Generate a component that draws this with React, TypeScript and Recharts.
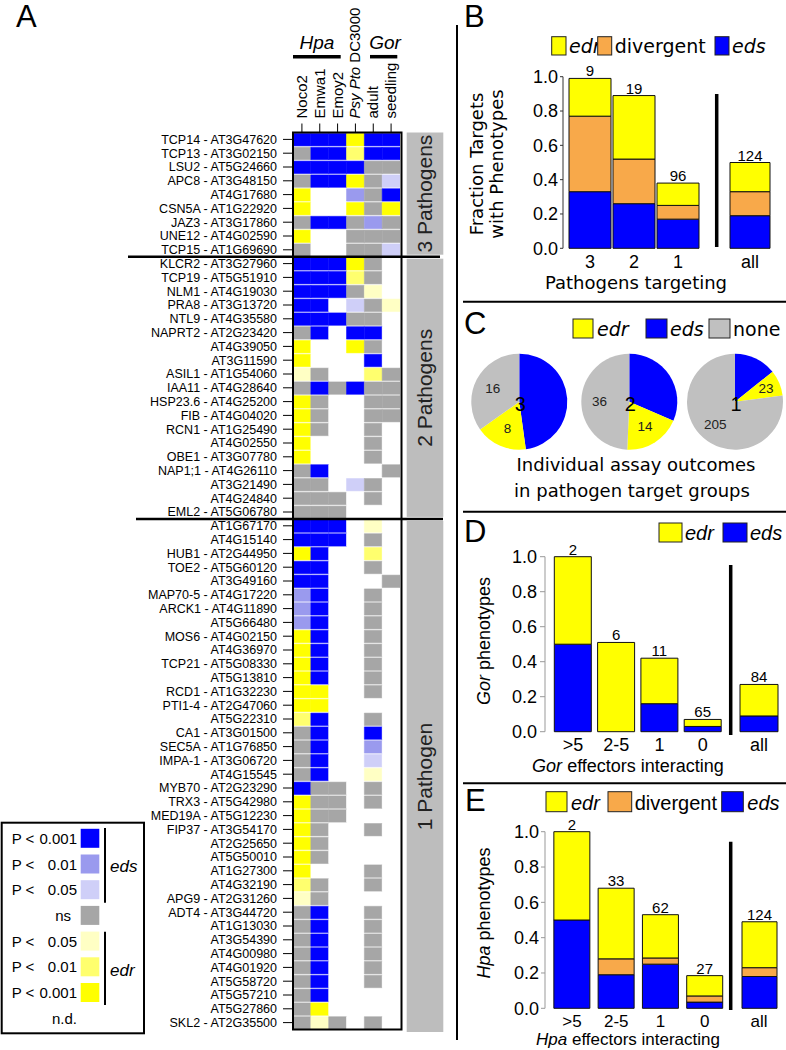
import React from 'react';
import { BarChart, Bar, XAxis, YAxis, Cell, LabelList, PieChart, Pie } from 'recharts';

const SANS = '"Liberation Sans", Arial, Helvetica, sans-serif';
const WIDE = '"DejaVu Sans", Verdana, sans-serif';

// ---------- panel A: heatmap ----------
// one character per assay column:
// B/b/c = eds P<0.001 / 0.01 / 0.05, Y/y/z = edr P<0.001 / 0.01 / 0.05, g = ns, . = n.d.
const assayColumns = ['Noco2', 'Emwa1', 'Emoy2', 'Psy Pto DC3000', 'adult', 'seedling'];

const threePathGenes = [
  'TCP14 - AT3G47620', 'TCP13 - AT3G02150', 'LSU2 - AT5G24660', 'APC8 - AT3G48150', 'AT4G17680',
  'CSN5A - AT1G22920', 'JAZ3 - AT3G17860', 'UNE12 - AT4G02590', 'TCP15 - AT1G69690',
];
const threePathCalls = ['BBBYBB', 'gBByBB', 'BBBBgg', 'gBBYgc', 'Y..bgB', 'Y..YgY', 'gBBgbg', 'Y..ggg', 'g..ggc'];

const twoPathGenes = [
  'KLCR2 - AT3G27960', 'TCP19 - AT5G51910', 'NLM1 - AT4G19030', 'PRA8 - AT3G13720', 'NTL9 - AT4G35580',
  'NAPRT2 - AT2G23420', 'AT4G39050', 'AT3G11590', 'ASIL1 - AT1G54060', 'IAA11 - AT4G28640',
  'HSP23.6 - AT4G25200', 'FIB - AT4G04020', 'RCN1 - AT1G25490', 'AT4G02550', 'OBE1 - AT3G07780',
  'NAP1;1 - AT4G26110', 'AT3G21490', 'AT4G24840', 'EML2 - AT5G06780',
];
const twoPathCalls = [
  'BBBYg.', 'BBByg.', 'BBBgz.', 'BB.cgz', 'BBBgg.', 'gB.BB.', 'Y..Yg.', 'Y...B.', 'zg..yg', 'gBgBgg',
  'Yg..gg', 'Yg..gg', 'Yg..g.', 'Y...g.', 'Y...g.', 'gB...g', 'gg.cg.', 'ggg.g.', 'ggg...',
];

const onePathGenes = [
  'AT1G67170', 'AT4G15140', 'HUB1 - AT2G44950', 'TOE2 - AT5G60120', 'AT3G49160', 'MAP70-5 - AT4G17220',
  'ARCK1 - AT4G11890', 'AT5G66480', 'MOS6 - AT4G02150', 'AT4G36970', 'TCP21 - AT5G08330', 'AT5G13810',
  'RCD1 - AT1G32230', 'PTI1-4 - AT2G47060', 'AT5G22310', 'CA1 - AT3G01500', 'SEC5A - AT1G76850',
  'IMPA-1 - AT3G06720', 'AT4G15545', 'MYB70 - AT2G23290', 'TRX3 - AT5G42980', 'MED19A - AT5G12230',
  'FIP37 - AT3G54170', 'AT2G25650', 'AT5G50010', 'AT1G27300', 'AT4G32190', 'APG9 - AT2G31260',
  'ADT4 - AT3G44720', 'AT1G13030', 'AT3G54390', 'AT4G00980', 'AT4G01920', 'AT5G58720', 'AT5G57210',
  'AT5G27860', 'SKL2 - AT2G35500',
];
const onePathCalls = [
  'BBB.z.', 'BBB.g.', 'YB..y.', 'BB..g.', 'BB...g', 'bB..g.', 'bB..g.', 'bB..g.', 'YB..g.', 'YB..g.',
  'YB..g.', 'YB..g.', 'YY..g.', 'YY....', 'yB..g.', 'gB..B.', 'gB..b.', 'gB..c.', 'gB..z.', 'Bgg.g.',
  'Ygg.g.', 'Ygg...', 'Yg..g.', 'Yg....', 'Yg....', 'Y...g.', 'yg..g.', 'zg....', 'gB..g.', 'gB..g.',
  'gB..g.', 'gB..g.', 'gB..g.', 'gB..g.', 'gB....', 'gY....', 'gzg.g.',
];

const callColors: Record<string, string> = {
  B: '#0000ff', b: '#9a9aee', c: '#cfcff8', g: '#a6a6a6',
  z: '#ffffc4', y: '#ffff6e', Y: '#ffff00', '.': '#ffffff',
};

const legendCodes = ['B', 'b', 'c', 'g', 'z', 'y', 'Y', '.'];
const legendText = ['0.001', '0.01', '0.05', 'ns', '0.05', '0.01', '0.001', 'n.d.'];

// ---------- panel B ----------
const targetCats = ['3', '2', '1', 'all'];
const targetEds = [0.33, 0.26, 0.17, 0.19];
const targetDiv = [0.44, 0.26, 0.08, 0.14];
const targetEdr = [0.22, 0.37, 0.13, 0.17];
const targetN = [9, 19, 96, 124];

// ---------- panel C ----------
const pieGroups = ['3', '2', '1'];
const pieEds = [22, 23, 38];
const pieEdr = [8, 14, 23];
const pieNone = [16, 36, 205];

// ---------- panel D ----------
const effCats = ['>5', '2-5', '1', '0', 'all'];
const gorEds = [0.5, 0, 0.16, 0.03, 0.09];
const gorEdr = [0.5, 0.51, 0.26, 0.04, 0.18];
const gorN = [2, 6, 11, 65, 84];

// ---------- panel E ----------
const hpaEds = [0.5, 0.19, 0.25, 0.035, 0.18];
const hpaDiv = [0, 0.09, 0.035, 0.035, 0.05];
const hpaEdr = [0.5, 0.4, 0.245, 0.115, 0.26];
const hpaN = [2, 33, 62, 27, 124];

const YELLOW = '#ffff00';
const ORANGE = '#f8a94a';
const BLUE = '#0000ff';
const PIEGREY = '#c0c0c0';

const geneLabels = [...threePathGenes, ...twoPathGenes, ...onePathGenes];
const geneCalls = [...threePathCalls, ...twoPathCalls, ...onePathCalls];
const heatRows = geneLabels.map((gene) => {
  const row: any = { gene };
  assayColumns.forEach((_, j) => (row['c' + j] = 1));
  return row;
});

const ColumnTick = (props: any) => {
  const { x, y, payload } = props;
  const label = assayColumns[Math.floor(payload.value)];
  const bx = x + 5;
  return (
    <text x={bx} y={y} transform={`rotate(-90 ${bx} ${y})`} fontSize={15} fontFamily={SANS} fill="#000">
      {label.startsWith('Psy') ? (
        <>
          <tspan fontStyle="italic">Psy Pto</tspan>
          <tspan> DC3000</tspan>
        </>
      ) : (
        label
      )}
    </text>
  );
};

type Layer = { key: string; fill: string };

const stackRows = (cats: string[], cols: Record<string, number[]>, n: number[]) =>
  cats.map((cat, i) => {
    const r: any = { cat, n: n[i] };
    Object.keys(cols).forEach((k) => (r[k] = cols[k][i]));
    return r;
  });

function StackPanel(p: {
  rows: any[]; layers: Layer[]; top: number; height: number; mt: number; mb: number;
  yWidth: number; pad: number; mainRight: number; barSize: number; xFont: number;
  allLeft: number; allRight: number; allBar: number; axisColor: string; tickSize: number; tickMargin: number;
}) {
  const bars = () =>
    p.layers.map((l, i) => (
      <Bar key={l.key} dataKey={l.key} stackId="s" fill={l.fill} stroke="#111" strokeWidth={1} isAnimationActive={false}>
        {i === p.layers.length - 1 && (
          <LabelList dataKey="n" position="top" offset={2} fontSize={15} fill="#000" fontFamily={SANS} />
        )}
      </Bar>
    ));
  const xAxis = (pad: number) => (
    <XAxis
      dataKey="cat"
      interval={0}
      axisLine={false}
      tickLine={false}
      tickSize={4}
      tickMargin={3}
      height={30}
      padding={{ left: pad, right: 0 }}
      tick={{ fontSize: p.xFont, fill: '#000', fontFamily: SANS }}
    />
  );
  return (
    <>
      <div style={{ position: 'absolute', left: 460, top: p.top }}>
        <BarChart width={326} height={p.height} data={p.rows.slice(0, -1)} barSize={p.barSize}
          margin={{ top: p.mt, right: p.mainRight, bottom: p.mb, left: 0 }}>
          {xAxis(p.pad)}
          <YAxis
            type="number"
            domain={[0, 1]}
            ticks={[0, 0.2, 0.4, 0.6, 0.8, 1]}
            tickFormatter={(v: number) => v.toFixed(1)}
            width={p.yWidth}
            tickSize={p.tickSize}
            tickMargin={p.tickMargin}
            axisLine={{ stroke: p.axisColor }}
            tickLine={{ stroke: p.axisColor }}
            tick={{ fontSize: 18, fill: '#000', fontFamily: SANS }}
          />
          {bars()}
        </BarChart>
      </div>
      <div style={{ position: 'absolute', left: 460, top: p.top }}>
        <BarChart width={326} height={p.height} data={p.rows.slice(-1)} barSize={p.allBar}
          margin={{ top: p.mt, right: p.allRight, bottom: p.mb, left: p.allLeft }}>
          {xAxis(0)}
          <YAxis type="number" domain={[0, 1]} hide />
          {bars()}
        </BarChart>
      </div>
    </>
  );
}

const RAD = Math.PI / 180;
const pieLabel = (props: any) => {
  const { cx, cy, midAngle, outerRadius, name, value, percent } = props;
  if (name === 'eds') return <g />;
  const r = outerRadius * (percent < 0.13 ? 0.7 : 0.62);
  const x = cx + r * Math.cos(-midAngle * RAD);
  const y = cy + r * Math.sin(-midAngle * RAD);
  return (
    <text x={x} y={y} textAnchor="middle" dominantBaseline="central" fontSize={13.5} fill="#222" fontFamily={SANS}>
      {value}
    </text>
  );
};

const pieFill: Record<string, string> = { eds: BLUE, edr: YELLOW, none: PIEGREY };

function LegendItem({ x, y, w, h, fill, label, italic, size, gap, font }: any) {
  return (
    <g>
      <rect x={x} y={y} width={w} height={h} fill={fill} stroke="#222" strokeWidth={1} />
      <text x={x + w + gap} y={y + h - 2} fontSize={size} fontStyle={italic ? 'italic' : 'normal'} fontFamily={font}>
        {label}
      </text>
    </g>
  );
}

export default function App() {
  const bRows = stackRows(targetCats, { eds: targetEds, div: targetDiv, edr: targetEdr }, targetN);
  const dRows = stackRows(effCats, { eds: gorEds, edr: gorEdr }, gorN);
  const eRows = stackRows(effCats, { eds: hpaEds, div: hpaDiv, edr: hpaEdr }, hpaN);
  const threeLayers: Layer[] = [
    { key: 'eds', fill: BLUE },
    { key: 'div', fill: ORANGE },
    { key: 'edr', fill: YELLOW },
  ];
  const twoLayers: Layer[] = [
    { key: 'eds', fill: BLUE },
    { key: 'edr', fill: YELLOW },
  ];
  const pieCenters = [59.3, 169.3, 275];

  const rowH = 13.8;
  const heatTop = 132.5;

  return (
    <div style={{ position: 'absolute', left: 0, top: 0, width: 786, height: 1050, background: '#fff', fontFamily: SANS }}>
      {/* heatmap */}
      <div style={{ position: 'absolute', left: 0, top: 0 }}>
        <BarChart width={400} height={1040} data={heatRows} layout="vertical" barCategoryGap={0} barSize={rowH}
          margin={{ top: 7.5, right: 0, bottom: 10.5, left: 0 }}>
          <XAxis
            type="number"
            orientation="top"
            domain={[0, 6]}
            ticks={[0.5, 1.5, 2.5, 3.5, 4.5, 5.5]}
            interval={0}
            height={125}
            tickSize={9}
            tickMargin={5}
            axisLine={false}
            tickLine={{ stroke: '#000' }}
            tick={<ColumnTick />}
          />
          <YAxis
            type="category"
            dataKey="gene"
            width={293}
            interval={0}
            tickSize={10}
            tickMargin={6}
            axisLine={false}
            tickLine={{ stroke: '#000' }}
            tick={{ fontSize: 12.5, fill: '#000', fontFamily: SANS }}
          />
          {assayColumns.map((_, j) => (
            <Bar key={j} dataKey={'c' + j} stackId="h" isAnimationActive={false}>
              {geneCalls.map((c, i) => (
                <Cell key={i} fill={callColors[c[j]]} stroke={callColors[c[j]]} strokeWidth={0.5} />
              ))}
            </Bar>
          ))}
        </BarChart>
      </div>

      {/* panel B */}
      <StackPanel rows={bRows} layers={threeLayers} top={0} height={300} mt={76.7} mb={21.7} yWidth={103} pad={5}
        mainRight={86} barSize={42} allLeft={268} allRight={14} allBar={40} axisColor="#333" tickSize={3} tickMargin={2} xFont={18} />

      {/* panel C */}
      <div style={{ position: 'absolute', left: 460, top: 345 }}>
        <PieChart width={326} height={115} margin={{ top: 0, right: 0, bottom: 0, left: 0 }}>
          {pieGroups.map((g, k) => {
            const data = [
              { name: 'eds', value: pieEds[k] },
              { name: 'edr', value: pieEdr[k] },
              { name: 'none', value: pieNone[k] },
            ];
            return (
              <Pie key={g} data={data} dataKey="value" nameKey="name" cx={pieCenters[k]} cy={56.7} outerRadius={48}
                startAngle={90} endAngle={-270} stroke="none" isAnimationActive={false} label={pieLabel} labelLine={false}>
                {data.map((d) => (
                  <Cell key={d.name} fill={pieFill[d.name]} />
                ))}
              </Pie>
            );
          })}
        </PieChart>
      </div>

      {/* panel D */}
      <StackPanel rows={dRows} layers={twoLayers} top={505} height={275} mt={51.7} mb={18.3} yWidth={85} pad={6.3}
        mainRight={61.5} barSize={37} allLeft={277} allRight={5} allBar={38} axisColor="#999" tickSize={5} tickMargin={3} xFont={18} />

      {/* panel E */}
      <StackPanel rows={eRows} layers={threeLayers} top={770} height={280} mt={61.7} mb={11.7} yWidth={85} pad={4.85}
        mainRight={59} barSize={36} allLeft={277} allRight={5} allBar={35} axisColor="#999" tickSize={4} tickMargin={2} xFont={17} />

      {/* annotations */}
      <svg width={786} height={1050} style={{ position: 'absolute', left: 0, top: 0, pointerEvents: 'none' }} fontFamily={SANS}>
        <text x={16} y={27} fontSize={31}>A</text>
        <text x={464} y={27} fontSize={31}>B</text>
        <text x={464} y={334} fontSize={31}>C</text>
        <text x={464} y={542} fontSize={31}>D</text>
        <text x={465} y={811} fontSize={31}>E</text>

        <line x1={457} y1={25} x2={457} y2={1040} stroke="#000" strokeWidth={2} />
        <line x1={463} y1={301.7} x2={786} y2={301.7} stroke="#000" strokeWidth={2} />
        <line x1={463} y1={511.7} x2={786} y2={511.7} stroke="#000" strokeWidth={2} />
        <line x1={463} y1={783.3} x2={786} y2={783.3} stroke="#000" strokeWidth={2} />

        {/* heatmap headers */}
        <text x={317} y={49} fontSize={19} fontStyle="italic" textAnchor="middle">Hpa</text>
        <line x1={293} y1={56.7} x2={340.7} y2={56.7} stroke="#000" strokeWidth={3.5} />
        <text x={385} y={49} fontSize={19} fontStyle="italic" textAnchor="middle">Gor</text>
        <line x1={370} y1={56.7} x2={397.3} y2={56.7} stroke="#000" strokeWidth={3.5} />

        <rect x={293} y={heatTop} width={108.5} height={65 * rowH} fill="none" stroke="#000" strokeWidth={2} />
        <line x1={128} y1={heatTop + 9 * rowH} x2={440} y2={heatTop + 9 * rowH} stroke="#000" strokeWidth={2.5} />
        <line x1={136} y1={heatTop + 28 * rowH} x2={443} y2={heatTop + 28 * rowH} stroke="#000" strokeWidth={2.5} />

        {[
          { y0: heatTop, y1: heatTop + 9 * rowH - 2, label: '3 Pathogens' },
          { y0: heatTop + 9 * rowH + 2, y1: heatTop + 28 * rowH - 2, label: '2 Pathogens' },
          { y0: heatTop + 28 * rowH + 2, y1: 1032, label: '1 Pathogen' },
        ].map((g) => {
          const cy = (g.y0 + g.y1) / 2;
          return (
            <g key={g.label}>
              <rect x={406.7} y={g.y0} width={36.6} height={g.y1 - g.y0} fill="#bdbdbd" />
              <text x={425} y={cy} transform={`rotate(-90 425 ${cy})`} textAnchor="middle" dominantBaseline="central"
                fontSize={21} fill="#222">{g.label}</text>
            </g>
          );
        })}

        {/* heatmap legend */}
        <rect x={1.7} y={822.7} width={142.3} height={210.6} fill="none" stroke="#000" strokeWidth={2} />
        {legendCodes.map((code, i) => {
          const yc = 838.3 + i * 25.7;
          const isP = i !== 3 && i !== 7;
          return (
            <g key={i}>
              {isP && <text x={11.7} y={yc} dominantBaseline="central" fontSize={15}>P &lt;</text>}
              <text x={i === 3 ? 71 : 77} y={yc} dominantBaseline="central" textAnchor="end" fontSize={15}>{legendText[i]}</text>
              {code !== '.' && <rect x={80.7} y={yc - 9.5} width={18.6} height={19} fill={callColors[code]} />}
            </g>
          );
        })}
        <line x1={105} y1={828} x2={105} y2={902.7} stroke="#000" strokeWidth={2} />
        <text x={110} y={866.7} dominantBaseline="central" fontSize={17} fontStyle="italic">eds</text>
        <line x1={105} y1={931.7} x2={105} y2={1005} stroke="#000" strokeWidth={2} />
        <text x={110} y={970} dominantBaseline="central" fontSize={17} fontStyle="italic">edr</text>

        {/* panel B decorations */}
        <LegendItem x={551.7} y={36.7} w={14.3} h={18.3} fill={YELLOW} label="edr" italic size={19} gap={3} font={WIDE} />
        <LegendItem x={597.7} y={36.7} w={14} h={18.3} fill={ORANGE} label="divergent" size={19} gap={3} font={WIDE} />
        <LegendItem x={715} y={36.7} w={14} h={18.3} fill={BLUE} label="eds" italic size={19} gap={3} font={WIDE} />
        <line x1={716.7} y1={94} x2={716.7} y2={247} stroke="#000" strokeWidth={3.5} />
        <g fontFamily={WIDE} fontSize={18}>
          <text x={476.7} y={164} transform="rotate(-90 476.7 164)" textAnchor="middle" dominantBaseline="central">Fraction Targets</text>
          <text x={496.7} y={164} transform="rotate(-90 496.7 164)" textAnchor="middle" dominantBaseline="central">with Phenotypes</text>
          <text x={636} y={289} textAnchor="middle">Pathogens targeting</text>
        </g>

        {/* panel C decorations */}
        <LegendItem x={573} y={319} w={20} h={19} fill={YELLOW} label="edr" italic size={19} gap={4} font={WIDE} />
        <LegendItem x={646} y={319} w={21} h={19} fill={BLUE} label="eds" italic size={19} gap={3} font={WIDE} />
        <LegendItem x={709} y={319} w={21} h={19} fill={PIEGREY} label="none" size={19} gap={3} font={WIDE} />
        {pieGroups.map((g, k) => (
          <text key={g} x={460 + pieCenters[k] + 1} y={404} textAnchor="middle" dominantBaseline="central" fontSize={20}>{g}</text>
        ))}
        <g fontFamily={WIDE} fontSize={18} textAnchor="middle">
          <text x={636} y={471}>Individual assay outcomes</text>
          <text x={632} y={497}>in pathogen target groups</text>
        </g>

        {/* panel D decorations */}
        <LegendItem x={659} y={523} w={23} h={19} fill={YELLOW} label="edr" italic size={20} gap={3} font={SANS} />
        <LegendItem x={723} y={523} w={24} h={19} fill={BLUE} label="eds" italic size={20} gap={3} font={SANS} />
        <line x1={730.7} y1={565} x2={730.7} y2={735} stroke="#000" strokeWidth={3.5} />
        <text x={484} y={641} transform="rotate(-90 484 641)" textAnchor="middle" dominantBaseline="central" fontSize={18}>
          <tspan fontStyle="italic">Gor</tspan> phenotypes
        </text>
        <text x={628} y={772} textAnchor="middle" fontSize={18}>
          <tspan fontStyle="italic">Gor</tspan> effectors interacting
        </text>

        {/* panel E decorations */}
        <LegendItem x={546} y={791.7} w={21} h={20} fill={YELLOW} label="edr" italic size={20} gap={4} font={SANS} />
        <LegendItem x={608} y={791.7} w={23.7} h={20} fill={ORANGE} label="divergent" size={20} gap={3} font={SANS} />
        <LegendItem x={721.7} y={791.7} w={21.6} h={20} fill={BLUE} label="eds" italic size={20} gap={4} font={SANS} />
        <line x1={730.7} y1={841.7} x2={730.7} y2={1010} stroke="#000" strokeWidth={3.5} />
        <text x={484} y={913} transform="rotate(-90 484 913)" textAnchor="middle" dominantBaseline="central" fontSize={18}>
          <tspan fontStyle="italic">Hpa</tspan> phenotypes
        </text>
        <text x={628} y={1045} textAnchor="middle" fontSize={17}>
          <tspan fontStyle="italic">Hpa</tspan> effectors interacting
        </text>
      </svg>
    </div>
  );
}
